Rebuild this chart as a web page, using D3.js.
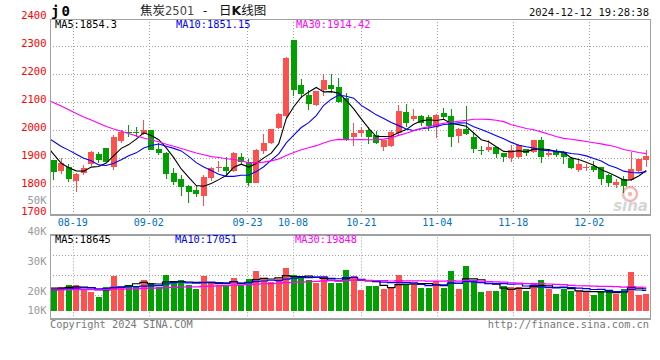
<!DOCTYPE html>
<html><head><meta charset="utf-8">
<script src="https://cdn.jsdelivr.net/npm/d3@7"></script>
<style>body{margin:0;background:#fff}svg{display:block}</style>
</head><body><svg id="c" width="660" height="360"></svg>
<script>
// ---------------- data ----------------
const dates = ["2024-08-14","2024-08-15","2024-08-16","2024-08-19","2024-08-20","2024-08-21","2024-08-22","2024-08-23","2024-08-26","2024-08-27","2024-08-28","2024-08-29","2024-08-30",
"2024-09-02","2024-09-03","2024-09-04","2024-09-05","2024-09-06","2024-09-09","2024-09-10","2024-09-11","2024-09-12","2024-09-13","2024-09-18","2024-09-19","2024-09-20","2024-09-23","2024-09-24","2024-09-25","2024-09-26","2024-09-27","2024-09-30",
"2024-10-08","2024-10-09","2024-10-10","2024-10-11","2024-10-14","2024-10-15","2024-10-16","2024-10-17","2024-10-18","2024-10-21","2024-10-22","2024-10-23","2024-10-24","2024-10-25","2024-10-28","2024-10-29","2024-10-30","2024-10-31",
"2024-11-01","2024-11-04","2024-11-05","2024-11-06","2024-11-07","2024-11-08","2024-11-11","2024-11-12","2024-11-13","2024-11-14","2024-11-15","2024-11-18","2024-11-19","2024-11-20","2024-11-21","2024-11-22","2024-11-25","2024-11-26","2024-11-27","2024-11-28","2024-11-29",
"2024-12-02","2024-12-03","2024-12-04","2024-12-05","2024-12-06","2024-12-09","2024-12-10","2024-12-11","2024-12-12"];
const open  = [1894,1856,1870,1820,1849,1879,1915,1936,1870,1963,1994,1993,1987,2001,1933,1919,1847,1826,1801,1787,1766,1830,1866,1868,1856,1904,1887,1813,1927,1954,2009,2051,2322,2162,2126,2090,2144,2162,2154,2114,1977,1991,2001,1983,1941,1944,1989,2064,2040,2051,2047,2012,2063,2051,1980,2005,1976,1931,1930,1939,1918,1902,1905,1932,1924,1965,1912,1925,1924,1901,1859,1866,1874,1868,1840,1805,1827,1821,1856,1893];
const high  = [1894,1900,1880,1846,1876,1926,1924,1938,1984,2001,2019,2011,2037,2002,1954,1921,1864,1840,1803,1805,1840,1870,1890,1906,1922,1920,1896,1932,1987,2006,2062,2261,2324,2182,2144,2142,2200,2200,2188,2134,2025,2013,2013,1997,1967,2001,2092,2094,2076,2055,2055,2058,2079,2075,2007,2087,1991,1944,1967,1942,1920,1947,1952,1934,1967,1975,1932,1932,1926,1905,1894,1879,1890,1870,1843,1827,1837,1924,1898,1930];
const low   = [1822,1844,1816,1781,1840,1871,1882,1886,1858,1954,1977,1977,1985,1928,1912,1826,1805,1765,1739,1763,1730,1819,1852,1834,1850,1876,1801,1811,1915,1952,2005,2043,2122,2114,2072,2086,2124,2134,2098,1963,1945,1975,1951,1951,1926,1940,1983,2012,2033,2015,1997,1971,2037,1941,1955,1984,1918,1913,1921,1900,1887,1888,1898,1908,1918,1885,1906,1903,1881,1863,1852,1856,1851,1803,1799,1793,1775,1819,1851,1870];
const close = [1852,1884,1827,1844,1864,1924,1894,1888,1977,1995,1991,1991,2001,1930,1920,1845,1816,1799,1781,1772,1833,1865,1868,1855,1920,1888,1813,1930,1956,2004,2058,2259,2144,2128,2094,2140,2180,2148,2102,1965,1989,2001,1977,1956,1965,1995,2069,2027,2051,2027,2015,2055,2049,1977,2005,1987,1934,1929,1940,1917,1903,1928,1949,1918,1965,1906,1918,1911,1906,1866,1879,1868,1857,1827,1811,1816,1800,1861,1896,1908];
const volume = [18040,20230,21670,21670,18040,16020,11800,20230,29500,21080,21670,21080,25880,23600,20230,30100,23100,25880,21670,18290,29250,23100,21670,21670,27310,21670,26720,33470,27310,24450,26470,35740,30100,27310,25880,23100,29250,23600,23600,34310,29250,17450,20820,20820,18290,19730,30100,22510,22510,19390,19390,25040,19390,33470,18290,37680,25040,16020,16610,16610,20820,20230,20230,16610,23600,25880,18040,14080,18040,16860,16860,15510,13240,16860,16610,14080,18290,32880,13240,14080];
// closes / volumes of the 30 sessions before the first visible candle (estimated from the MA lines)
const priorCloses = [2245,2240,2235,2230,2235,2250,2245,2240,2245,2240,2235,2240,2235,2130,2120,2115,2030,2025,2020,2025,2020,2060,1960,1990,2010,2010,2044,1907,1899,1869];
const priorVolumes = [17500,17800,16900,18200,17300,16600,18100,17600,17000,18400,16800,17500,17900,16700,18000,17200,16900,17700,18300,16800,17400,15500,16400,15800,16200,15600,19800,18600,19400,19200];
const priceTicks = [1700,1800,1900,2000,2100,2200,2300,2400];
const dateTicks = ["2024-08-19","2024-09-02","2024-09-23","2024-10-08","2024-10-21","2024-11-04","2024-11-18","2024-12-02"];
const volTickLabels = ["40K","30K","20K","10K"];
const maPeriods = [5,10,30];
const maColors = ["#000000","#0000ff","#ff00ff"];
const priceLegend = ["MA5:1854.3","MA10:1851.15","MA30:1914.42"];
const volLegend = ["MA5:18645","MA10:17051","MA30:19848"];

// ---------------- layout ----------------
const svg = d3.select("#c");
const L = 50, R = 650, pTop = 19, pBot = 214.3, vTop = 234.3, vBot = 318.3;
const RED = "#ff5050", GREEN = "#00a000", GRID = "#a0a0a0", FRAME = "#a0a0a0";
const MONO = "'DejaVu Sans Mono', 'Liberation Mono', monospace";

const xBand = d3.scaleBand().domain(dates).range([L, R]).paddingInner(0.2).paddingOuter(0.1);
const xGrid = d3.scalePoint().domain(dates).range([L, R]);
const cx = d => xBand(d) + xBand.bandwidth() / 2;
const y = d3.scaleLinear().domain([1700, 2400]).range([pBot, 18.3]);
const vy = d3.scaleLinear().domain([0, 10000]).range([310.7, 310.7 - 10000 / 843]);

// moving averages (with the earlier sessions for warm-up)
function mas(prior, vals, n) {
  const all = prior.concat(vals), off = prior.length, out = [];
  for (let i = -1; i < vals.length; i++) {
    const k = i + off; if (k - n + 1 < 0) continue;
    out.push({i, v: d3.mean(all.slice(k - n + 1, k + 1))});
  }
  return out;
}
const xi = i => i < 0 ? cx(dates[0]) - xBand.step() : cx(dates[i]);

// clip paths
const defs = svg.append("defs");
defs.append("clipPath").attr("id", "pc").append("rect").attr("x", L).attr("y", pTop).attr("width", R - L).attr("height", pBot - pTop);
defs.append("clipPath").attr("id", "vc").append("rect").attr("x", L).attr("y", vTop).attr("width", R - L).attr("height", vBot - vTop);

// ---------------- header ----------------
svg.append("text").attr("x", 51).attr("y", 15.5).attr("font-family", MONO).attr("font-weight", "bold").attr("font-size", 14).attr("letter-spacing", 2).text("j0");
const title = svg.append("text").attr("x", 140).attr("y", 15).attr("font-family", "'Noto Sans CJK SC', sans-serif").attr("font-size", 12.5).attr("fill", "#111");
title.append("tspan").text("焦炭");
title.append("tspan").attr("font-family", "'DejaVu Sans', sans-serif").attr("font-size", 11.5).attr("fill", "#444").text("2501");
title.append("tspan").attr("font-family", MONO).attr("font-size", 12).text(" - ");
title.append("tspan").attr("dx", 3).text("日");
title.append("tspan").attr("font-family", "'DejaVu Sans', sans-serif").attr("font-weight", "bold").attr("font-size", 12.5).text("K");
title.append("tspan").text("线图");
svg.append("text").attr("x", 649).attr("y", 15.5).attr("text-anchor", "end").attr("font-family", MONO).attr("font-size", 10.5).attr("fill", "#111").text("2024-12-12 19:28:38");

// ---------------- price panel grid ----------------
const g = svg.append("g");
g.selectAll(".hg").data(priceTicks.filter(t => t > 1700 && t < 2400)).join("line")
  .attr("x1", L).attr("x2", R).attr("y1", d => Math.round(y(d)) + 0.5).attr("y2", d => Math.round(y(d)) + 0.5)
  .attr("stroke", GRID).attr("stroke-dasharray", "1,2");
g.selectAll(".vg").data(dateTicks).join("line")
  .attr("x1", d => Math.round(xGrid(d)) + 0.5).attr("x2", d => Math.round(xGrid(d)) + 0.5).attr("y1", pTop).attr("y2", pBot)
  .attr("stroke", GRID).attr("stroke-dasharray", "1,2");
// price labels
g.selectAll(".pl").data(priceTicks).join("text")
  .attr("x", 46.5).attr("y", d => y(d) + 1).attr("text-anchor", "end")
  .attr("font-family", MONO).attr("font-size", 10.5).attr("fill", "#ff0000").text(d => d);
svg.append("text").attr("x", 46.5).attr("y", 204).attr("text-anchor", "end").attr("font-family", MONO).attr("font-size", 10.5).attr("fill", "#999").text("50K");
// date labels
g.selectAll(".dl").data(dateTicks).join("text")
  .attr("x", d => xGrid(d)).attr("y", 226).attr("text-anchor", "middle")
  .attr("font-family", MONO).attr("font-size", 10).attr("fill", "#0070c0").text(d => d.slice(5));

// sina watermark
const wm = svg.append("g").attr("opacity", 0.35);
wm.append("circle").attr("cx", 630).attr("cy", 194).attr("r", 7).attr("fill", "none").attr("stroke", "#e03030").attr("stroke-width", 2.5);
wm.append("circle").attr("cx", 630).attr("cy", 194).attr("r", 2.2).attr("fill", "#e03030");
wm.append("text").attr("x", 648).attr("y", 211).attr("text-anchor", "end").attr("font-family", "'DejaVu Sans', sans-serif").attr("font-style", "italic").attr("font-weight", "bold").attr("font-size", 15).attr("fill", "#888").text("sina");

// ---------------- candles ----------------
const cg = svg.append("g").attr("clip-path", "url(#pc)").attr("shape-rendering", "crispEdges");
const candles = dates.map((d, i) => ({d, o: open[i], h: high[i], l: low[i], c: close[i]}));
cg.selectAll(".wick").data(candles).join("line")
  .attr("x1", d => Math.floor(cx(d.d)) + 0.5).attr("x2", d => Math.floor(cx(d.d)) + 0.5)
  .attr("y1", d => y(d.h)).attr("y2", d => y(d.l))
  .attr("stroke", d => d.c >= d.o ? RED : GREEN);
cg.selectAll(".body").data(candles).join("rect")
  .attr("x", d => xBand(d.d)).attr("width", xBand.bandwidth())
  .attr("y", d => y(Math.max(d.o, d.c)))
  .attr("height", d => Math.max(1, y(Math.min(d.o, d.c)) - y(Math.max(d.o, d.c))))
  .attr("fill", d => d.c >= d.o ? RED : GREEN);

// price MAs
const lg = svg.append("g").attr("clip-path", "url(#pc)");
maPeriods.forEach((n, k) => {
  const pts = mas(priorCloses, close, n);
  lg.append("path").datum(pts).attr("fill", "none").attr("stroke", maColors[k]).attr("stroke-width", 1.1)
    .attr("d", d3.line().x(p => xi(p.i)).y(p => y(p.v)));
});

// frame
svg.append("rect").attr("x", L + 0.5).attr("y", pTop + 0.5).attr("width", R - L).attr("height", pBot - pTop)
  .attr("fill", "none").attr("stroke", FRAME).attr("stroke-width", 1.5).attr("shape-rendering", "crispEdges");

// legend
[55, 176, 296].forEach((x, k) => {
  svg.append("text").attr("x", x).attr("y", 28).attr("font-family", MONO).attr("font-size", 10.3).attr("fill", maColors[k]).text(priceLegend[k]);
});

// ---------------- volume panel ----------------
const vg = svg.append("g");
[255.3, 275.3, 295.3].forEach(yy => {
  vg.append("line").attr("x1", L).attr("x2", R).attr("y1", Math.round(yy) + 0.5).attr("y2", Math.round(yy) + 0.5).attr("stroke", GRID).attr("stroke-dasharray", "1,2");
});
vg.selectAll(".vvg").data(dateTicks).join("line")
  .attr("x1", d => Math.round(xGrid(d)) + 0.5).attr("x2", d => Math.round(xGrid(d)) + 0.5).attr("y1", vTop).attr("y2", vBot)
  .attr("stroke", GRID).attr("stroke-dasharray", "1,2");
volTickLabels.forEach((t, k) => {
  svg.append("text").attr("x", 46.5).attr("y", Math.min(314, 235 + 30 * k)).attr("text-anchor", "end")
    .attr("font-family", MONO).attr("font-size", 10.5).attr("fill", "#999").text(t);
});
const bg = svg.append("g").attr("clip-path", "url(#vc)").attr("shape-rendering", "crispEdges");
bg.selectAll(".vb").data(dates).join("rect")
  .attr("x", d => xBand(d)).attr("width", xBand.bandwidth())
  .attr("y", (d, i) => vy(volume[i])).attr("height", (d, i) => vy(0) - vy(volume[i]))
  .attr("fill", (d, i) => close[i] >= open[i] ? RED : GREEN);
const vlg = svg.append("g").attr("clip-path", "url(#vc)");
maPeriods.forEach((n, k) => {
  const pts = mas(priorVolumes, volume, n);
  vlg.append("path").datum(pts).attr("fill", "none").attr("stroke", maColors[k]).attr("stroke-width", 1.2)
    .attr("d", d3.line().curve(d3.curveStep).x(p => xi(p.i)).y(p => vy(p.v)));
});
svg.append("rect").attr("x", L + 0.5).attr("y", vTop + 0.5).attr("width", R - L).attr("height", vBot - vTop)
  .attr("fill", "none").attr("stroke", FRAME).attr("stroke-width", 1.5).attr("shape-rendering", "crispEdges");
[55, 175, 295].forEach((x, k) => {
  svg.append("text").attr("x", x).attr("y", 242.5).attr("font-family", MONO).attr("font-size", 10.3).attr("fill", maColors[k]).text(volLegend[k]);
});

// footer
svg.append("text").attr("x", 50).attr("y", 327.5).attr("font-family", MONO).attr("font-size", 10.3).attr("fill", "#777").text("Copyright 2024 SINA.COM");
svg.append("text").attr("x", 649).attr("y", 327.5).attr("text-anchor", "end").attr("font-family", MONO).attr("font-size", 10.3).attr("fill", "#777").text("http://finance.sina.com.cn");
</script></body></html>
